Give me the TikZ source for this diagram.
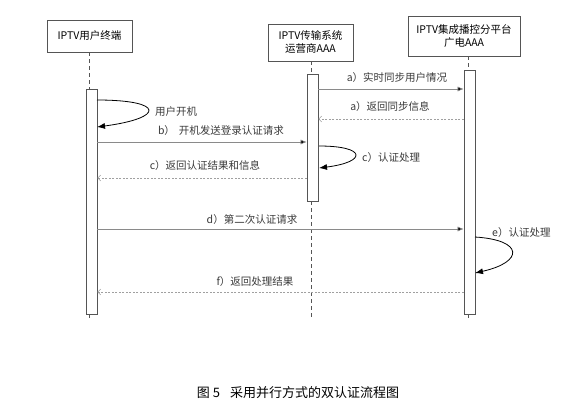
\documentclass[tikz,border=0pt]{standalone}
\usepackage{fontspec}
\setmainfont{Noto Sans CJK SC}
\newfontfamily\cjk{Noto Sans CJK SC}
\usetikzlibrary{arrows.meta}
\definecolor{boxline}{HTML}{555555}
\definecolor{msgline}{HTML}{8A8A8A}
\definecolor{retline}{HTML}{A0A0A0}
\definecolor{txt}{HTML}{3A3A3A}
\tikzset{
  actor/.style={draw=boxline, line width=0.8pt, fill=white, align=center, inner sep=0pt,
    font=\cjk\fontsize{10.5}{13}\selectfont, text=black},
  actbar/.style={draw=boxline, line width=0.7pt, fill=white, minimum width=11pt, inner sep=0pt},
  lifeline/.style={draw=boxline, dashed, dash pattern=on 4pt off 3pt, line width=0.6pt},
  msg/.style={draw=msgline, line width=0.6pt, -{Latex[length=6pt,width=5pt,fill=black]}},
  ret/.style={draw=retline, line width=0.5pt, dash pattern=on 2pt off 1.5pt, -{Straight Barb[length=3pt,width=6pt]}},
  selfloop/.style={draw=black, line width=0.8pt, -{Latex[length=8pt,width=6pt]}},
  lbl/.style={font=\cjk\fontsize{10.5}{12}\selectfont, text=txt, inner sep=0pt},
}
\begin{document}
\begin{tikzpicture}[x=1pt,y=-1pt]
\useasboundingbox (0,0) rectangle (584,413);
% actors
\node[actor, minimum width=85pt, minimum height=32pt] (A1) at (89.5,36) {IPTV用户终端};
\node[actor, minimum width=85pt, minimum height=37pt] (A2) at (310.5,42.5) {IPTV传输系统\\运营商AAA};
\node[actor, minimum width=112pt, minimum height=40pt] (A3) at (464,36) {IPTV集成播控分平台\\广电AAA};
% lifeline end points
\coordinate (E1) at (89,320);
\coordinate (E2) at (311,320);
\coordinate (E3) at (468,320);
% activation bars
\node[actbar, minimum height=225pt] (B1) at (91.5,201.5) {};
\node[actbar, minimum height=127pt] (B2) at (312.5,137.5) {};
\node[actbar, minimum height=244pt] (B3) at (469.5,192) {};
% lifelines
\draw[lifeline] (A1.south -| E1) -- (B1.north -| E1);
\draw[lifeline] (B1.south -| E1) -- (E1);
\draw[lifeline] (A2.south -| E2) -- (B2.north -| E2);
\draw[lifeline] (B2.south -| E2) -- (E2);
\draw[lifeline] (A3.south -| E3) -- (B3.north -| E3);
\draw[lifeline] (B3.south -| E3) -- (E3);
% messages
\coordinate (ya1) at (0,89);
\coordinate (ya2) at (0,119);
\coordinate (yb) at (0,142);
\coordinate (yc) at (0,178);
\coordinate (yd) at (0,229);
\coordinate (yf) at (0,292);
\draw[msg] (B2.east |- ya1) -- (B3.west |- ya1);
\node[lbl] (La1) at (397,78) {a）实时同步用户情况};
\draw[ret] (B3.west |- ya2) -- (B2.east |- ya2);
\node[lbl] (La2) at (390,107) {a）返回同步信息};
% self loop 1
\coordinate (s1a) at (97,100);
\coordinate (s1b) at (97,127);
\draw[selfloop] (s1a) .. controls (165,100) and (165,118) .. (s1b);
\node[lbl, anchor=west] (L0) at (155,112) {用户开机};
\draw[msg] (B1.east |- yb) -- (B2.west |- yb);
\node[lbl] (Lb) at (221,131) {b）\hspace{4pt}开机发送登录认证请求};
% self loop 2
\coordinate (s2a) at (319,146);
\coordinate (s2b) at (319,168);
\draw[selfloop] (s2a) .. controls (367,146) and (367,162) .. (s2b);
\node[lbl, anchor=west] (Lc1) at (362,158) {c）认证处理};
\draw[ret] (B2.west |- yc) -- (B1.east |- yc);
\node[lbl] (Lc2) at (205,166) {c）返回认证结果和信息};
\draw[msg] (B1.east |- yd) -- (B3.west |- yd);
\node[lbl] (Ld) at (252,220) {d）第二次认证请求};
% self loop 3
\coordinate (s3a) at (475,237);
\coordinate (s3b) at (475,273);
\draw[selfloop] (s3a) .. controls (524,240) and (524,262) .. (s3b);
\node[lbl, anchor=west] (Le) at (492,233) {e）认证处理};
\draw[ret] (B3.west |- yf) -- (B1.east |- yf);
\node[lbl] (Lf) at (255,282) {f）返回处理结果};
% caption
\node[font=\cjk\fontsize{13}{15}\selectfont, text=black, inner sep=0pt] (cap) at (298,393) {图 5\hspace{10pt}采用并行方式的双认证流程图};
\end{tikzpicture}
\end{document}
